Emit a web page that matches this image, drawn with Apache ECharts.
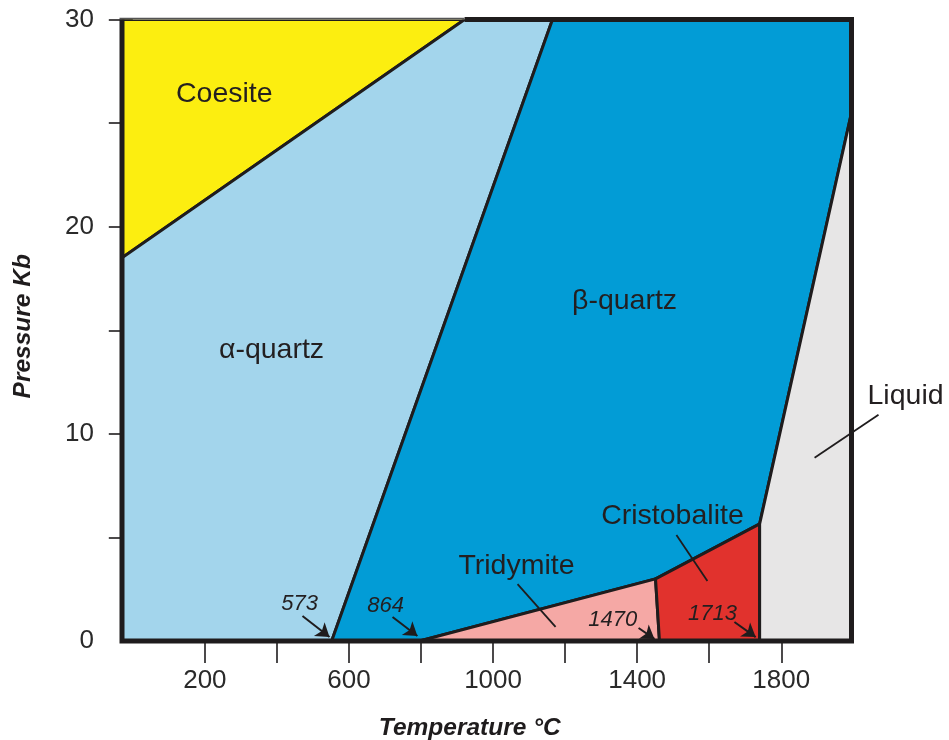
<!DOCTYPE html>
<html><head><meta charset="utf-8">
<script src="https://cdn.jsdelivr.net/npm/echarts@6/dist/echarts.min.js"></script>
<style>html,body{margin:0;padding:0;background:#fff}#c{width:949px;height:740px}</style>
</head><body><div id="c"></div>
<script>
// ---- axes ----
const xMin = -30, xMax = 1995, yMin = 0, yMax = 30;
const xTickValues = [200, 400, 600, 800, 1000, 1200, 1400, 1600, 1800];
const xLabelValues = [200, 600, 1000, 1400, 1800];
const yTickValues = [5, 10, 15, 20, 25, 30];
const yLabelValues = [0, 10, 20, 30];

// ---- phase fields (Temperature °C, Pressure Kb) ----
const coesite      = [[-30, 18.5], [-30, 30], [921, 30]];
const alphaQuartz  = [[-30, 0], [-30, 18.5], [921, 30], [1165, 30], [552, 0]];
const betaQuartz   = [[552, 0], [796, 0], [1451, 3.0], [1740, 5.65], [1995, 25.5], [1995, 30], [1165, 30]];
const tridymite    = [[796, 0], [1451, 3.0], [1462, 0]];
const cristobalite = [[1462, 0], [1451, 3.0], [1740, 5.65], [1740, 0]];
const liquid       = [[1740, 0], [1740, 5.65], [1995, 25.5], [1995, 0]];

const regionNames = ['Coesite', 'α-quartz', 'β-quartz', 'Tridymite', 'Cristobalite', 'Liquid'];
const regionLabelPos = [[254, 26.4], [385, 14.06], [1365, 16.4], [1065, 3.62], [1498, 6.04], [2145, 11.8]];

const pointLabels = ['573', '864', '1470', '1713'];
const pointLabelPos = [[463, 1.79], [702, 1.69], [1332, 1.01], [1609, 1.30]];
const arrowLines = [
  [[471, 1.21], [546, 0.19]],
  [[721, 1.16], [790, 0.24]],
  [[1404, 0.63], [1448, 0.10]],
  [[1670, 0.92], [1729, 0.19]]
];
const leaderLines = [
  [[1068, 2.75], [1173.5, 0.68]],
  [[1509, 5.12], [1595, 2.90]],
  [[2070, 10.92], [1892.5, 8.84]]
];

const regions = [coesite, alphaQuartz, betaQuartz, tridymite, cristobalite, liquid];
const regionColors = ['#fcee10', '#a3d5ec', '#029cd6', '#f5a8a5', '#e1322d', '#e7e6e6'];
const INK = '#1f1c1d';
const FONT = '"Liberation Sans", Arial, sans-serif';

const chart = echarts.init(document.getElementById('c'), null, {renderer: 'canvas'});

chart.setOption({
  backgroundColor: '#ffffff',
  animation: false,
  grid: {left: 122, right: 97.5, top: 19.5, bottom: 99, outerBoundsMode: 'none', containLabel: false},
  xAxis: {
    type: 'value', min: xMin, max: xMax,
    name: 'Temperature °C', nameLocation: 'middle', nameGap: 75,
    nameTextStyle: {fontSize: 24.5, fontWeight: 'bold', fontStyle: 'italic', color: INK, fontFamily: FONT, padding: [0, 34, 0, 0]},
    axisLine: {show: false},
    splitLine: {show: false},
    axisTick: {show: true, customValues: xTickValues, length: 22, lineStyle: {color: INK, width: 1.6}},
    axisLabel: {customValues: xLabelValues, fontSize: 26, color: '#2a2a2a', fontFamily: FONT, margin: 27,
                formatter: v => String(v)}
  },
  yAxis: {
    type: 'value', min: yMin, max: yMax,
    name: 'Pressure Kb', nameLocation: 'middle', nameGap: 86,
    nameTextStyle: {fontSize: 24.5, fontWeight: 'bold', fontStyle: 'italic', color: INK, fontFamily: FONT, padding: [0, 0, 0, 8]},
    axisLine: {show: false},
    splitLine: {show: false},
    axisTick: {show: true, customValues: yTickValues, length: 24, lineStyle: {color: INK, width: 1.6}},
    axisLabel: {customValues: yLabelValues, fontSize: 26, color: '#2a2a2a', fontFamily: FONT, margin: 28,
                formatter: v => String(v)}
  },
  series: [
    {
      type: 'custom', name: 'phases', z: 2, clip: true,
      data: regions.map((r, i) => [i, 0]),
      renderItem: function (params, api) {
        const i = params.dataIndex;
        const pts = regions[i].map(p => api.coord(p));
        return {
          type: 'polygon',
          shape: {points: pts},
          style: {fill: regionColors[i], stroke: INK, lineWidth: 3, lineJoin: 'miter'}
        };
      }
    },
    {
      type: 'custom', name: 'frame', z: 5,
      data: [[xMin, yMin]],
      renderItem: function (params, api) {
        const p = (x, y) => api.coord([x, y]);
        return {
          type: 'group',
          children: [
            {type: 'polyline',
             shape: {points: [p(coesite[2][0], yMax), p(xMax, yMax), p(xMax, yMin), p(xMin, yMin), p(xMin, yMax)]},
             style: {fill: null, stroke: INK, lineWidth: 5, lineJoin: 'miter'}},
            {type: 'line',
             shape: {x1: p(xMin, yMax)[0] - 2.5, y1: p(xMin, yMax)[1] - 1, x2: p(coesite[2][0], yMax)[0], y2: p(xMin, yMax)[1] - 1},
             style: {stroke: '#555', lineWidth: 1.5}}
          ]
        };
      }
    },
    {
      type: 'lines', coordinateSystem: 'cartesian2d', z: 6, clip: false,
      symbol: ['none', 'none'],
      lineStyle: {color: INK, width: 1.8, opacity: 1},
      data: leaderLines.map(c => ({coords: c}))
    },
    {
      type: 'lines', coordinateSystem: 'cartesian2d', z: 6, clip: false,
      symbol: ['none', 'arrow'], symbolSize: 13,
      lineStyle: {color: INK, width: 2, opacity: 1},
      itemStyle: {color: INK},
      data: arrowLines.map(c => ({coords: c}))
    },
    {
      type: 'custom', name: 'regionLabels', z: 7, clip: false,
      data: regionLabelPos,
      renderItem: function (params, api) {
        const p = api.coord([api.value(0), api.value(1)]);
        return {
          type: 'text', x: p[0], y: p[1],
          style: {text: regionNames[params.dataIndex], fill: '#231f20', fontSize: 28.5, fontFamily: FONT,
                  align: 'center', verticalAlign: 'middle'}
        };
      }
    },
    {
      type: 'custom', name: 'pointLabels', z: 7, clip: false,
      data: pointLabelPos,
      renderItem: function (params, api) {
        const p = api.coord([api.value(0), api.value(1)]);
        return {
          type: 'text', x: p[0], y: p[1],
          style: {text: pointLabels[params.dataIndex], fill: '#231f20', fontSize: 22, fontStyle: 'italic', fontFamily: FONT,
                  align: 'center', verticalAlign: 'middle'}
        };
      }
    }
  ]
});
</script>
</body></html>
